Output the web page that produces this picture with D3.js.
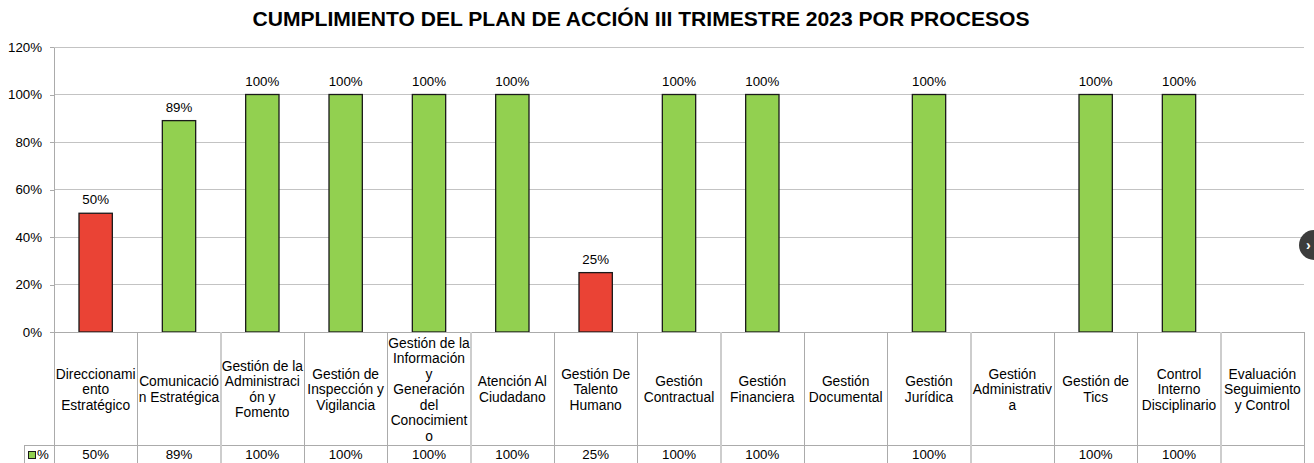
<!DOCTYPE html>
<html>
<head>
<meta charset="utf-8">
<script src="https://cdn.jsdelivr.net/npm/d3@7"></script>
<style>
  body { margin: 0; background: #fff; }
  svg { display: block; font-family: "Liberation Sans", Arial, sans-serif; }
</style>
</head>
<body>
<div id="chart"></div>
<script>
// data
const title = "CUMPLIMIENTO DEL PLAN DE ACCIÓN III TRIMESTRE 2023 POR PROCESOS";
const categories = [
    "Direccionamiento Estratégico",
    "Comunicación Estratégica",
    "Gestión de la Administración y Fomento",
    "Gestión de Inspección y Vigilancia",
    "Gestión de la Información y Generación del Conocimiento",
    "Atención Al Ciudadano",
    "Gestión De Talento Humano",
    "Gestión Contractual",
    "Gestión Financiera",
    "Gestión Documental",
    "Gestión Jurídica",
    "Gestión Administrativa",
    "Gestión de Tics",
    "Control Interno Disciplinario",
    "Evaluación Seguimiento y Control"
];
const values = [0.50, 0.89, 1, 1, 1, 1, 0.25, 1, 1, null, 1, null, 1, 1, null];
const yTicks = [0, 0.2, 0.4, 0.6, 0.8, 1.0, 1.2];
const seriesName = "%";

const width = 1314, height = 463;
const plot = {left: 54, right: 1304, top: 47, bottom: 332};
const rowSplit = 445; // header row / value row border
const green = "#92d050", red = "#ea4335", gridColor = "#c3c3c3", tableColor = "#ababab";
const fontSize = 13.3,
    labelSize = 13.8, // category labels in the table
    wrapWidth = 81.6;

const svg = d3.select("#chart").append("svg")
    .attr("width", width)
    .attr("height", height);

const x = d3.scaleBand()
    .domain(categories)
    .range([plot.left, plot.right])
    .paddingInner(0.6)
    .paddingOuter(0.3);

const y = d3.scaleLinear()
    .domain([0, 1.2])
    .range([plot.bottom, plot.top]);

const fmt = d3.format(".0%");

// title
svg.append("text")
    .attr("x", 641)
    .attr("y", 26)
    .attr("text-anchor", "middle")
    .attr("font-family", "'Liberation Sans Narrow', 'Liberation Sans', Arial, sans-serif")
    .attr("font-weight", "bold")
    .attr("font-size", 20.5)
    .attr("textLength", 777)
    .attr("lengthAdjust", "spacingAndGlyphs")
    .attr("fill", "#000")
    .text(title);

// gridlines
svg.append("g")
    .selectAll("line")
    .data(yTicks.filter(d => d > 0))
    .join("line")
    .attr("x1", plot.left)
    .attr("x2", plot.right)
    .attr("y1", d => y(d))
    .attr("y2", d => y(d))
    .attr("stroke", gridColor)
    .attr("stroke-width", 1)
    .attr("shape-rendering", "crispEdges");

// y axis
const yAxis = svg.append("g")
    .attr("transform", `translate(${plot.left},0)`)
    .call(d3.axisLeft(y).tickValues(yTicks).tickFormat(fmt).tickSize(4).tickPadding(8).tickSizeOuter(0));
yAxis.select(".domain").attr("stroke", tableColor).attr("shape-rendering", "crispEdges");
yAxis.selectAll(".tick line").attr("stroke", tableColor).attr("shape-rendering", "crispEdges");
yAxis.selectAll(".tick text")
    .attr("font-size", fontSize)
    .attr("font-family", "'Liberation Sans', Arial, sans-serif")
    .attr("fill", "#000");

// bars
const barData = categories.map((c, i) => ({cat: c, v: values[i]})).filter(d => d.v !== null);

svg.append("g")
    .selectAll("rect")
    .data(barData)
    .join("rect")
    .attr("x", d => x(d.cat))
    .attr("y", d => y(d.v))
    .attr("width", x.bandwidth())
    .attr("height", d => y(0) - y(d.v))
    .attr("fill", d => d.v <= 0.5 ? red : green)
    .attr("stroke", "#1a1a1a")
    .attr("stroke-width", 1.3);

// value labels
svg.append("g")
    .selectAll("text")
    .data(barData)
    .join("text")
    .attr("x", d => x(d.cat) + x.bandwidth() / 2)
    .attr("y", d => y(d.v) - 9)
    .attr("text-anchor", "middle")
    .attr("font-size", fontSize)
    .attr("fill", "#000")
    .text(d => fmt(d.v));

// data table below the plot
const step = x.step();
const table = svg.append("g").attr("shape-rendering", "crispEdges");

table.append("line")
    .attr("x1", plot.left).attr("x2", plot.right)
    .attr("y1", plot.bottom).attr("y2", plot.bottom)
    .attr("stroke", tableColor);
table.append("line")
    .attr("x1", 24).attr("x2", plot.right)
    .attr("y1", rowSplit).attr("y2", rowSplit)
    .attr("stroke", tableColor);

// cell borders (the ones on fractional pixels look soft and wider)
const borders = d3.range(categories.length + 1).map(i => plot.left + i * step);
table.selectAll("line.cell")
    .data(borders)
    .join("line")
    .attr("class", "cell")
    .attr("x1", d => Math.round(d)).attr("x2", d => Math.round(d))
    .attr("y1", plot.bottom).attr("y2", height)
    .attr("stroke", (d, i) => i % 3 === 2 ? "#cdcdcd" : tableColor)
    .attr("stroke-width", (d, i) => i % 3 === 2 ? 2 : 1);
table.append("line")
    .attr("x1", 24).attr("x2", 24)
    .attr("y1", rowSplit).attr("y2", height)
    .attr("stroke", tableColor);

// wrap labels the way the spreadsheet does: a word that does not fit goes
// to a new line, and a word longer than the cell is broken by character
const measurer = svg.append("text").attr("font-size", labelSize).attr("visibility", "hidden");
function textWidth(s) {
    measurer.text(s);
    return measurer.node().getComputedTextLength();
}
function wrap(label, maxW) {
    const lines = [];
    let line = "";
    label.split(" ").forEach(word => {
        const tryLine = line ? line + " " + word : word;
        if (textWidth(tryLine) <= maxW) {
            line = tryLine;
            return;
        }
        if (line) lines.push(line);
        let rest = word;
        while (textWidth(rest) > maxW) {
            let k = rest.length;
            while (k > 1 && textWidth(rest.slice(0, k)) > maxW) k--;
            lines.push(rest.slice(0, k));
            rest = rest.slice(k);
        }
        line = rest;
    });
    if (line) lines.push(line);
    return lines;
}

const lineH = 15.5;
const headerMid = (plot.bottom + rowSplit) / 2 + 1;
categories.forEach(c => {
    const lines = wrap(c, wrapWidth);
    const cx = x(c) + x.bandwidth() / 2;
    const t = table.append("text")
        .attr("text-anchor", "middle")
        .attr("font-size", labelSize)
        .attr("fill", "#000");
    lines.forEach((l, j) => {
        t.append("tspan")
            .attr("x", cx)
            .attr("y", headerMid + (j - (lines.length - 1) / 2) * lineH + 4.5)
            .text(l);
    });
});
measurer.remove();

// value row
table.selectAll("text.val")
    .data(barData)
    .join("text")
    .attr("class", "val")
    .attr("x", d => x(d.cat) + x.bandwidth() / 2)
    .attr("y", 459)
    .attr("text-anchor", "middle")
    .attr("font-size", fontSize)
    .attr("fill", "#000")
    .text(d => fmt(d.v));

// legend key in the value row
table.append("rect")
    .attr("x", 28.5).attr("y", 451.5)
    .attr("width", 7).attr("height", 7)
    .attr("fill", green)
    .attr("stroke", "#1a1a1a");
table.append("text")
    .attr("x", 37)
    .attr("y", 459)
    .attr("font-size", fontSize)
    .attr("fill", "#000")
    .text(seriesName);

// page "next" button visible at the right edge
svg.append("circle")
    .attr("cx", 1314)
    .attr("cy", 245)
    .attr("r", 15)
    .attr("fill", "#3c3c3c");
svg.append("text")
    .attr("x", 1306)
    .attr("y", 250)
    .attr("font-size", 14)
    .attr("font-weight", "bold")
    .attr("fill", "#fff")
    .text("›");
</script>
</body>
</html>
